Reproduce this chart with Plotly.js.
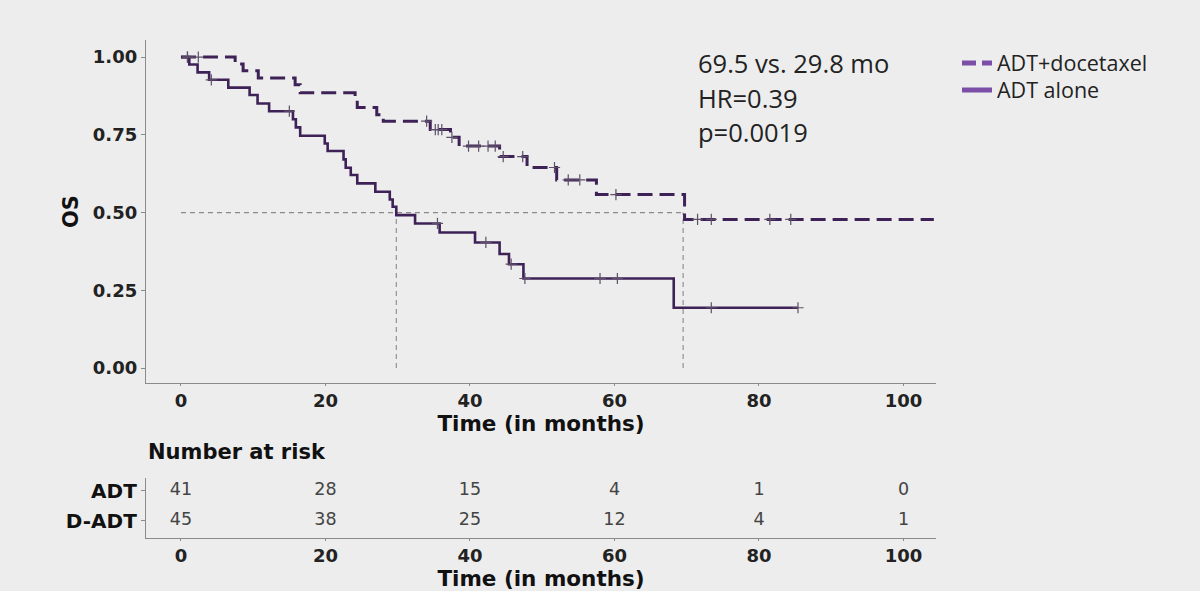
<!DOCTYPE html>
<html>
<head>
<meta charset="utf-8">
<script src="https://cdn.plot.ly/plotly-3.0.1.min.js"></script>
<style>html,body{margin:0;padding:0;background:#ededed;}#chart{width:1200px;height:591px;}</style>
</head>
<body>
<div id="chart"></div>
<script>
// ADT + docetaxel arm (Kaplan-Meier steps)
const dTime = [0, 7.5, 8.6, 10.7, 15.8, 16.5, 24.1, 24.4, 27.1, 28.0, 34.5, 37.3, 38.5, 44.1, 47.9, 52.0, 57.5, 69.7, 104.2];
const dSurv = [1.0, 0.978, 0.956, 0.933, 0.911, 0.885, 0.860, 0.838, 0.815, 0.794, 0.767, 0.742, 0.714, 0.680, 0.645, 0.605, 0.558, 0.478, 0.478];
const dCensor = [0.9, 2.4, 34.0, 35.2, 35.6, 36.1, 37.5, 39.8, 41.2, 42.5, 43.5, 44.6, 47.3, 51.7, 53.6, 55.2, 60.2, 71.5, 73.4, 81.5, 84.4];

// ADT alone arm
const aTime = [0, 1.15, 2.3, 3.9, 6.55, 9.5, 10.6, 12.2, 15.5, 15.9, 16.5, 19.9, 20.3, 22.5, 22.8, 23.5, 24.4, 26.9, 28.9, 29.3, 29.8, 32.4, 35.8, 40.7, 44.1, 45.4, 47.4, 68.2, 85.4];
const aSurv = [1.0, 0.976, 0.951, 0.927, 0.902, 0.878, 0.851, 0.826, 0.800, 0.774, 0.747, 0.722, 0.698, 0.671, 0.644, 0.621, 0.594, 0.567, 0.542, 0.519, 0.492, 0.465, 0.436, 0.404, 0.367, 0.334, 0.288, 0.194, 0.194];
const aCensor = [0.9, 4.2, 15.0, 35.5, 42.2, 45.7, 47.6, 58.0, 60.4, 73.4, 85.4];

// medians (months)
const medians = [29.8, 69.5];

// number at risk table
const riskTimes = [0, 20, 40, 60, 80, 100];
const riskADT = [41, 28, 15, 4, 1, 0];
const riskDADT = [45, 38, 25, 12, 4, 1];
const rowLabels = ['ADT', 'D-ADT'];

const xTicks = [0, 20, 40, 60, 80, 100];
const yTicks = [0, 0.25, 0.5, 0.75, 1.0];
const yTickText = ['0.00', '0.25', '0.50', '0.75', '1.00'];

const stats = ['69.5 vs. 29.8 mo', 'HR=0.39', 'p=0.0019'];
const legendNames = ['ADT+docetaxel', 'ADT alone'];

function survAt(times, surv, t) {
  let s = surv[0];
  for (let i = 0; i < times.length; i++) { if (times[i] <= t) s = surv[i]; }
  return s;
}

const lineCol = '#3e2257';
const legCol = '#7b4fa8';
const censorCol = '#5d5068';
const bold = 'DejaVu Sans';

const traces = [
  {x: dTime, y: dSurv, type: 'scatter', mode: 'lines', line: {shape: 'hv', color: lineCol, width: 3, dash: '15px,7px'}, showlegend: false, hoverinfo: 'skip'},
  {x: aTime, y: aSurv, type: 'scatter', mode: 'lines', line: {shape: 'hv', color: lineCol, width: 2.6}, showlegend: false, hoverinfo: 'skip'},
  {x: dCensor, y: dCensor.map(t => survAt(dTime, dSurv, t)), type: 'scatter', mode: 'markers', marker: {symbol: 'cross-thin', size: 8, line: {width: 1.2, color: censorCol}}, showlegend: false},
  {x: aCensor, y: aCensor.map(t => survAt(aTime, aSurv, t)), type: 'scatter', mode: 'markers', marker: {symbol: 'cross-thin', size: 8, line: {width: 1.2, color: censorCol}}, showlegend: false},
  // legend entries
  {x: [null], y: [null], type: 'scatter', mode: 'lines', name: legendNames[0], legend: 'legend', line: {color: legCol, width: 5, dash: '14px,6px'}},
  {x: [null], y: [null], type: 'scatter', mode: 'lines', name: legendNames[1], legend: 'legend2', line: {color: legCol, width: 5}},
  // risk table
  {x: riskTimes, y: riskTimes.map(() => 1), text: riskADT.map(String), type: 'scatter', mode: 'text', xaxis: 'x2', yaxis: 'y2', textfont: {family: 'DejaVu Sans', size: 17.5, color: '#444'}, showlegend: false},
  {x: riskTimes, y: riskTimes.map(() => 0), text: riskDADT.map(String), type: 'scatter', mode: 'text', xaxis: 'x2', yaxis: 'y2', textfont: {family: 'DejaVu Sans', size: 17.5, color: '#444'}, showlegend: false}
];

const refLine = {color: '#8a8a8a', width: 1.1, dash: '5px,4px'};
const shapes = [
  {type: 'line', xref: 'x', yref: 'y', x0: 0, x1: Math.max(...medians), y0: 0.5, y1: 0.5, line: refLine, layer: 'below'}
].concat(medians.map(m => ({type: 'line', xref: 'x', yref: 'y', x0: m, x1: m, y0: 0, y1: 0.5, line: refLine, layer: 'below'})));

const statY = [63, 98, 132];
const annotations = stats.map((s, i) => ({
  text: s, xref: 'paper', yref: 'paper', x: 696 / 1200, y: 1 - statY[i] / 591,
  xanchor: 'left', yanchor: 'middle', showarrow: false,
  font: {family: 'Open Sans', size: 25.5, color: '#222'}
}));
annotations.push({
  text: 'Number at risk', xref: 'paper', yref: 'paper', x: 146 / 1200, y: 1 - 452 / 591,
  xanchor: 'left', yanchor: 'middle', showarrow: false,
  font: {family: bold, size: 21, color: '#111', weight: 'bold'}
});

const xDom = [146 / 1200, 936 / 1200];
const xRange = [-4.84, 104.5];
const axisCommon = {
  showgrid: false, zeroline: false, showline: true, linecolor: '#8a8a8a', linewidth: 1.2,
  ticks: 'outside', ticklen: 4, tickcolor: '#8a8a8a', tickwidth: 1
};
const legendCommon = {xanchor: 'left', yanchor: 'middle', bgcolor: 'rgba(0,0,0,0)',
  font: {family: 'Open Sans', size: 21.5, color: '#222'}, itemwidth: 30};

const layout = {
  width: 1200, height: 591,
  paper_bgcolor: '#ededed', plot_bgcolor: '#ededed',
  margin: {l: 0, r: 0, t: 0, b: 0},
  showlegend: true,
  legend: Object.assign({}, legendCommon, {x: 957 / 1200, y: 1 - 63 / 591}),
  legend2: Object.assign({}, legendCommon, {x: 957 / 1200, y: 1 - 90 / 591}),
  xaxis: Object.assign({}, axisCommon, {domain: xDom, range: xRange, tickvals: xTicks, anchor: 'y', ticklen: 1.5,
    tickfont: {family: bold, size: 18, color: '#222', weight: 'bold'},
    title: {text: 'Time (in months)', standoff: 0, font: {family: bold, size: 21.5, color: '#111', weight: 'bold'}}}),
  yaxis: Object.assign({}, axisCommon, {domain: [1 - 383 / 591, 1 - 40 / 591], range: [-0.048, 1.055], tickvals: yTicks, ticktext: yTickText, anchor: 'x',
    tickfont: {family: bold, size: 18, color: '#222', weight: 'bold'},
    title: {text: 'OS', standoff: 8, font: {family: bold, size: 21, color: '#111', weight: 'bold'}}}),
  xaxis2: Object.assign({}, axisCommon, {domain: xDom, range: xRange, tickvals: xTicks, anchor: 'y2', ticklen: 1.5,
    tickfont: {family: bold, size: 18, color: '#222', weight: 'bold'},
    title: {text: 'Time (in months)', standoff: 0, font: {family: bold, size: 21.5, color: '#111', weight: 'bold'}}}),
  yaxis2: Object.assign({}, axisCommon, {domain: [1 - 538 / 591, 1 - 478 / 591], range: [-0.567, 1.433], tickvals: [1, 0], ticktext: rowLabels, anchor: 'x2',
    tickfont: {family: bold, size: 20, color: '#111', weight: 'bold'}}),
  shapes: shapes,
  annotations: annotations
};

Plotly.newPlot('chart', traces, layout, {displayModeBar: false, staticPlot: true});
</script>
</body>
</html>
